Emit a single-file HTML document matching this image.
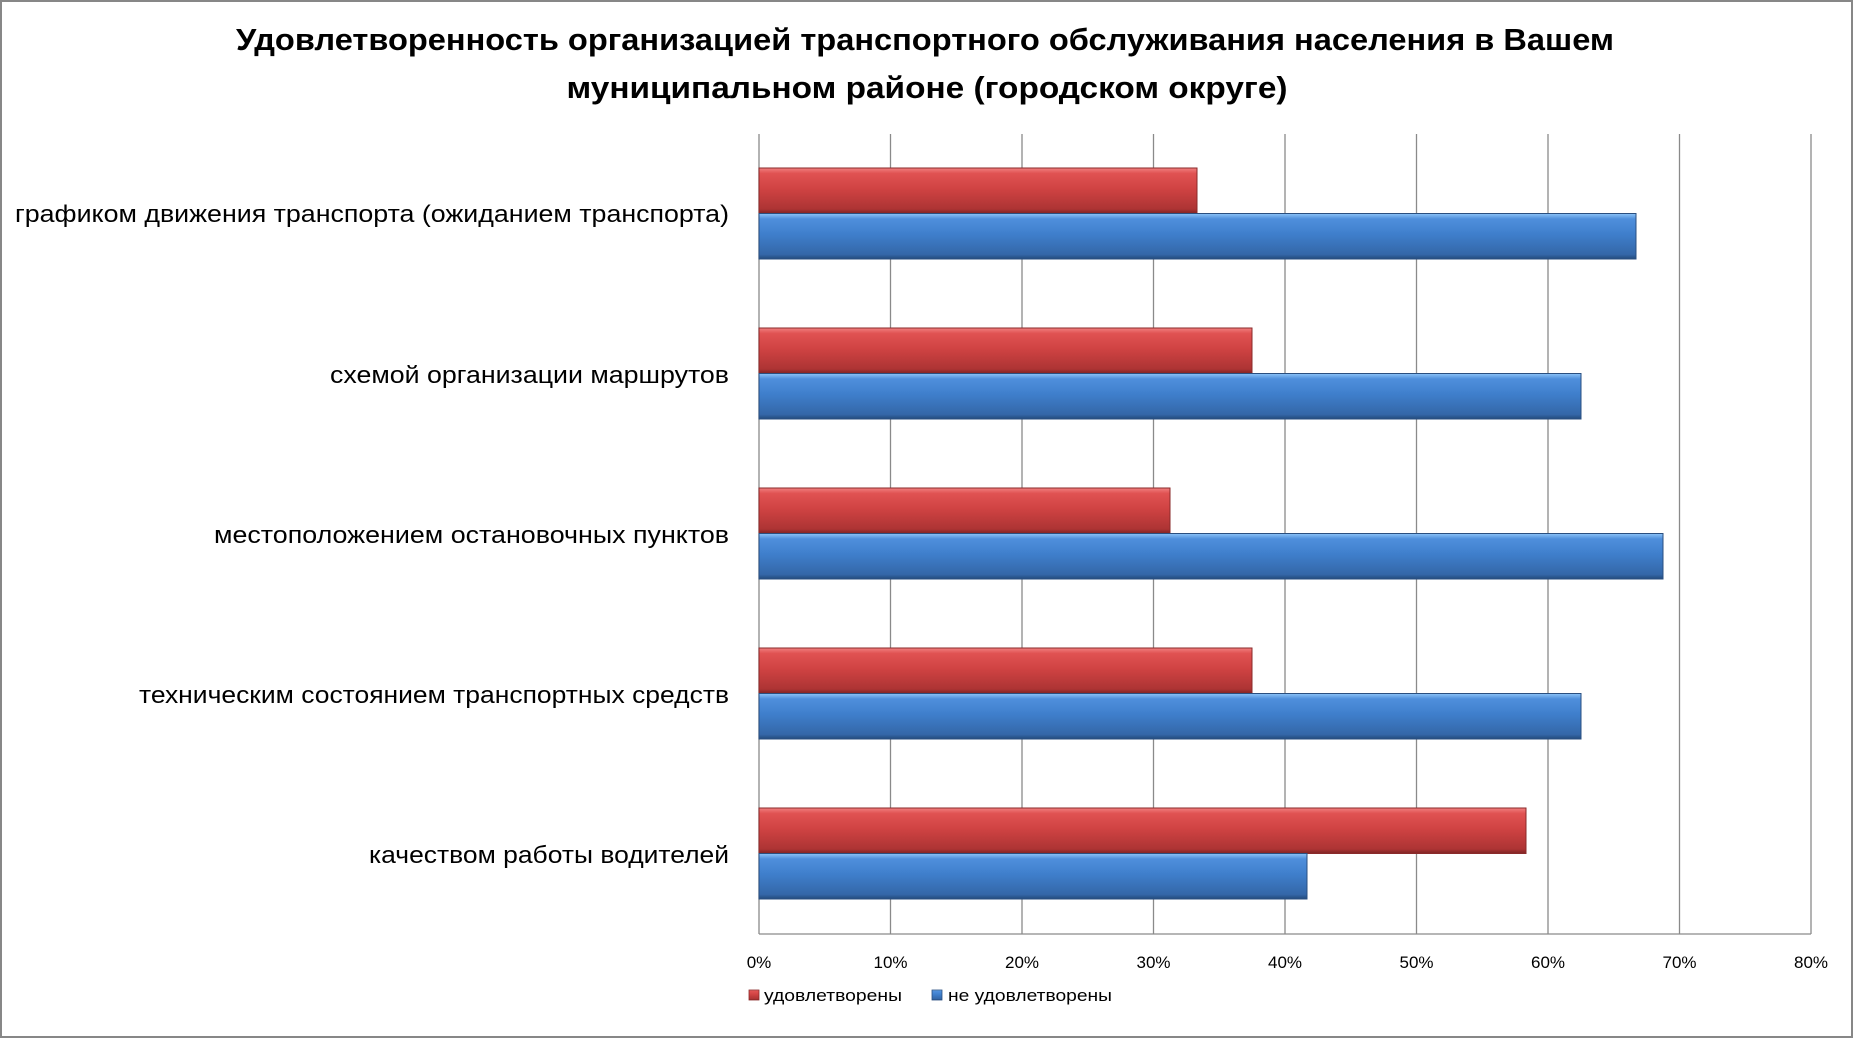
<!DOCTYPE html>
<html><head><meta charset="utf-8"><style>
html,body{margin:0;padding:0;background:#fff}
svg{display:block}
text{font-family:"Liberation Sans",sans-serif;fill:#000}
</style></head><body>
<svg width="1853" height="1038" viewBox="0 0 1853 1038" xmlns="http://www.w3.org/2000/svg">
<defs>
<linearGradient id="r" x1="0" y1="0" x2="0" y2="1">
<stop offset="0" stop-color="#f08080"/><stop offset="0.12" stop-color="#e05252"/><stop offset="0.45" stop-color="#d04343"/><stop offset="0.9" stop-color="#ad3434"/><stop offset="1" stop-color="#7f2424"/>
</linearGradient>
<linearGradient id="b" x1="0" y1="0" x2="0" y2="1">
<stop offset="0" stop-color="#8cc4f8"/><stop offset="0.12" stop-color="#4f8fdc"/><stop offset="0.45" stop-color="#3f7fcc"/><stop offset="0.9" stop-color="#3467a8"/><stop offset="1" stop-color="#234a7c"/>
</linearGradient>
</defs>
<rect x="1" y="1" width="1851" height="1036" fill="#fff" stroke="#878787" stroke-width="2"/>
<text x="925" y="50" font-size="31" font-weight="bold" text-anchor="middle" textLength="1378" lengthAdjust="spacingAndGlyphs">Удовлетворенность организацией транспортного обслуживания населения в Вашем</text>
<text x="927" y="98" font-size="31" font-weight="bold" text-anchor="middle" textLength="721" lengthAdjust="spacingAndGlyphs">муниципальном районе (городском округе)</text>
<g stroke="#8a8a8a" stroke-width="1.3">
<line x1="759" y1="134" x2="759" y2="934"/>
<line x1="890.5" y1="134" x2="890.5" y2="934"/>
<line x1="1022" y1="134" x2="1022" y2="934"/>
<line x1="1153.5" y1="134" x2="1153.5" y2="934"/>
<line x1="1285" y1="134" x2="1285" y2="934"/>
<line x1="1416.5" y1="134" x2="1416.5" y2="934"/>
<line x1="1548" y1="134" x2="1548" y2="934"/>
<line x1="1679.5" y1="134" x2="1679.5" y2="934"/>
<line x1="1811" y1="134" x2="1811" y2="934"/>
<line x1="759" y1="934" x2="1811" y2="934"/>
</g>
<g stroke-width="1">
<rect x="759" y="168" width="438" height="45.5" fill="url(#r)" stroke="#8a2a2a"/>
<rect x="759" y="213.5" width="877" height="45.5" fill="url(#b)" stroke="#2a4f80"/>
<rect x="759" y="328" width="493" height="45.5" fill="url(#r)" stroke="#8a2a2a"/>
<rect x="759" y="373.5" width="822" height="45.5" fill="url(#b)" stroke="#2a4f80"/>
<rect x="759" y="488" width="411" height="45.5" fill="url(#r)" stroke="#8a2a2a"/>
<rect x="759" y="533.5" width="904" height="45.5" fill="url(#b)" stroke="#2a4f80"/>
<rect x="759" y="648" width="493" height="45.5" fill="url(#r)" stroke="#8a2a2a"/>
<rect x="759" y="693.5" width="822" height="45.5" fill="url(#b)" stroke="#2a4f80"/>
<rect x="759" y="808" width="767" height="45.5" fill="url(#r)" stroke="#8a2a2a"/>
<rect x="759" y="853.5" width="548" height="45.5" fill="url(#b)" stroke="#2a4f80"/>
</g>
<g font-size="24" text-anchor="end">
<text x="729" y="222" textLength="714" lengthAdjust="spacingAndGlyphs">графиком движения транспорта (ожиданием транспорта)</text>
<text x="729" y="383" textLength="399" lengthAdjust="spacingAndGlyphs">схемой организации маршрутов</text>
<text x="729" y="543" textLength="515" lengthAdjust="spacingAndGlyphs">местоположением остановочных пунктов</text>
<text x="729" y="703" textLength="590" lengthAdjust="spacingAndGlyphs">техническим состоянием транспортных средств</text>
<text x="729" y="863" textLength="360" lengthAdjust="spacingAndGlyphs">качеством работы водителей</text>
</g>
<g font-size="17" text-anchor="middle">
<text x="759" y="968">0%</text>
<text x="890.5" y="968">10%</text>
<text x="1022" y="968">20%</text>
<text x="1153.5" y="968">30%</text>
<text x="1285" y="968">40%</text>
<text x="1416.5" y="968">50%</text>
<text x="1548" y="968">60%</text>
<text x="1679.5" y="968">70%</text>
<text x="1811" y="968">80%</text>
</g>
<rect x="749" y="990" width="10" height="10" fill="url(#r)" stroke="#8a2a2a" stroke-width="0.8"/>
<text x="764" y="1001" font-size="17" textLength="138" lengthAdjust="spacingAndGlyphs">удовлетворены</text>
<rect x="932" y="990" width="10" height="10" fill="url(#b)" stroke="#2a4f80" stroke-width="0.8"/>
<text x="948" y="1001" font-size="17" textLength="164" lengthAdjust="spacingAndGlyphs">не удовлетворены</text>
</svg>
</body></html>
